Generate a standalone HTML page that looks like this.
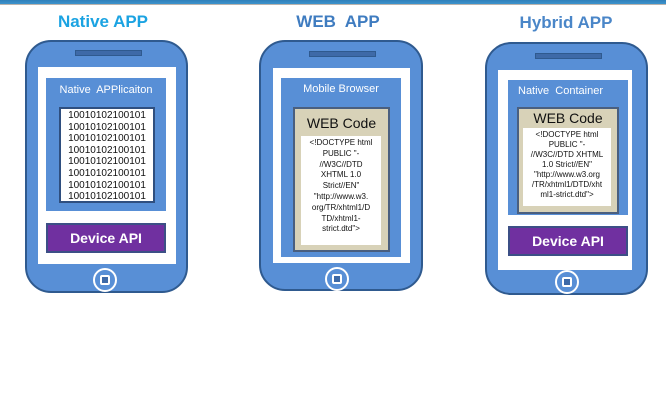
<!DOCTYPE html>
<html><head><meta charset="utf-8"><style>
*{margin:0;padding:0;box-sizing:border-box}
body{width:666px;height:400px;background:#fff;position:relative;overflow:hidden;font-family:"Liberation Sans",Arial,sans-serif}
.a{position:absolute}
.bar{left:0;top:0;width:666px;height:5px;background:linear-gradient(#2f7fba,#3d93cc);border-bottom:1px solid #b9b3ad}
.t{font-weight:bold;font-size:17px;text-align:center;width:160px}
.ph{background:#588fd6;border:2px solid #2f5a8f;border-radius:26px}
.sp{background:#3e6aa8;border:1px solid #2f5a8f;height:6px}
.scr{background:#fff}
.in{background:#588fd6}
.lbl{color:#fff;font-size:11px;text-align:center;width:100%}
.api{background:#7030a0;border:2px solid #3c4f86;color:#fff;font-weight:bold;font-size:14px;text-align:center;line-height:26px}
.home{width:24px;height:24px;border:2px solid #fff;border-radius:50%}
.home i{position:absolute;left:5px;top:5px;width:10px;height:10px;border:2px solid #fff;border-radius:2px;background:#3e6aa8}
.bin{background:#fff;border:2px solid #2f4f7f;font-size:10px;line-height:11.6px;text-align:center;color:#111;padding-top:1px}
.wc{background:#d8d2b8;border:2px solid #4a5f7f;text-align:center;color:#111}
.wt{background:#fff;font-size:8px;line-height:10.8px;text-align:center;color:#111}
</style></head><body>
<div class="a bar"></div>
<div class="a t" style="left:23px;top:12px;color:#1ba3e2">Native APP</div>
<div class="a t" style="left:258px;top:12px;color:#3f7cc0">WEB&nbsp; APP</div>
<div class="a t" style="left:486px;top:13px;color:#4a86c8">Hybrid APP</div>

<!-- phone 1 -->
<div class="a ph" style="left:25px;top:40px;width:163px;height:253px"></div>
<div class="a sp" style="left:75px;top:50px;width:67px"></div>
<div class="a scr" style="left:38px;top:67px;width:138px;height:197px"></div>
<div class="a in" style="left:46px;top:78px;width:120px;height:133px"><div class="lbl" style="margin-top:6px">Native&nbsp; APPlicaiton</div></div>
<div class="a bin" style="left:59px;top:107px;width:96px;height:96px">10010102100101<br>10010102100101<br>10010102100101<br>10010102100101<br>10010102100101<br>10010102100101<br>10010102100101<br>10010102100101</div>
<div class="a api" style="left:46px;top:223px;width:120px;height:30px">Device API</div>
<div class="a home" style="left:93px;top:268px"><i></i></div>

<!-- phone 2 -->
<div class="a ph" style="left:259px;top:40px;width:164px;height:251px"></div>
<div class="a sp" style="left:309px;top:51px;width:67px"></div>
<div class="a scr" style="left:273px;top:68px;width:137px;height:195px"></div>
<div class="a in" style="left:281px;top:78px;width:120px;height:179px"><div class="lbl" style="margin-top:5px">Mobile Browser</div></div>
<div class="a wc" style="left:293px;top:107px;width:97px;height:145px;font-size:14px;padding-top:6px">WEB Code</div>
<div class="a wt" style="left:299px;top:134px;width:84px;height:113px;border:2px solid #d8d2b8;padding-top:2px">&lt;!DOCTYPE html<br>PUBLIC "-<br>//W3C//DTD<br>XHTML 1.0<br>Strict//EN"<br>"http://www.w3.<br>org/TR/xhtml1/D<br>TD/xhtml1-<br>strict.dtd"&gt;</div>
<div class="a home" style="left:325px;top:267px"><i></i></div>

<!-- phone 3 -->
<div class="a ph" style="left:485px;top:42px;width:163px;height:253px"></div>
<div class="a sp" style="left:535px;top:53px;width:67px"></div>
<div class="a scr" style="left:498px;top:70px;width:134px;height:200px"></div>
<div class="a in" style="left:508px;top:80px;width:120px;height:135px"><div class="lbl" style="margin-top:5px;text-align:left;padding-left:10px">Native&nbsp; Container</div></div>
<div class="a wc" style="left:517px;top:107px;width:102px;height:107px;font-size:14px;padding-top:1px">WEB Code</div>
<div class="a wt" style="left:523px;top:128px;width:88px;height:78px;padding-top:2px;line-height:10px">&lt;!DOCTYPE html<br>PUBLIC "-<br>//W3C//DTD XHTML<br>1.0 Strict//EN"<br>"http://www.w3.org<br>/TR/xhtml1/DTD/xht<br>ml1-strict.dtd"&gt;</div>
<div class="a api" style="left:508px;top:226px;width:120px;height:30px">Device API</div>
<div class="a home" style="left:555px;top:270px"><i></i></div>
</body></html>
